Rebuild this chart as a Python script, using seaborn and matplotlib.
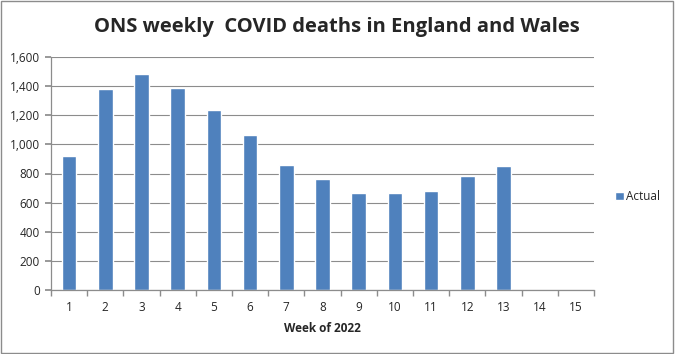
import matplotlib
matplotlib.use("Agg")
import matplotlib.pyplot as plt
import seaborn as sns
import numpy as np
import pandas as pd
from matplotlib.patches import Rectangle
from matplotlib.ticker import FuncFormatter, FixedLocator

weeks = [str(i) for i in range(1, 16)]
actual = [920, 1380, 1483, 1387, 1236, 1064, 860, 762, 668, 668, 680, 785, 853, np.nan, np.nan]
yticks = [0, 200, 400, 600, 800, 1000, 1200, 1400, 1600]

sns.set_theme(style="white")
plt.rcParams['font.family'] = ['Open Sans', 'DejaVu Sans']

df = pd.DataFrame({"week": weeks, "Actual": actual})

fig = plt.figure(figsize=(6.75, 3.54), dpi=100)
ax = fig.add_axes([51/675, 1-290/354, (594-51)/675, (290-57)/354])

sns.barplot(data=df, x="week", y="Actual", order=weeks, color="#4F81BD",
            width=0.4, saturation=1, ax=ax, label="Actual")

ax.set_ylim(0, 1600)
ax.set_xlim(-0.5, 14.5)
ax.set_yticks(yticks)
ax.yaxis.set_major_formatter(FuncFormatter(lambda v, p: f"{int(v):,}"))
ax.grid(axis="y", color="#8c8c8c", linewidth=0.8)
ax.set_axisbelow(True)

for s in ["top", "right"]:
    ax.spines[s].set_visible(False)
for s in ["left", "bottom"]:
    ax.spines[s].set_color("#8c8c8c")
    ax.spines[s].set_linewidth(0.9)

ax.tick_params(axis="y", which="major", length=4, color="#8c8c8c", direction="out",
               labelsize=8.5, pad=4, left=True)
ax.tick_params(axis="x", which="major", length=0, labelsize=8.5, pad=8)
ax.xaxis.set_minor_locator(FixedLocator(np.arange(-0.5, 15, 1)))
ax.tick_params(axis="x", which="minor", length=4, color="#8c8c8c", direction="out", bottom=True)

ax.set_xlabel("Week of 2022", fontsize=8.5, fontweight="bold", labelpad=6)
ax.set_ylabel("")

fig.text(337/675, 1-27/354, "ONS weekly  COVID deaths in England and Wales",
         ha="center", va="center", fontsize=14.5, fontweight="bold")

leg = ax.legend(loc="center left", bbox_to_anchor=(1.02, 0.4), frameon=False,
                fontsize=8.5, handlelength=0.7, handleheight=0.7, handletextpad=0.2)

fig.patches.append(Rectangle((0.002, 0.003), 0.995, 0.993, transform=fig.transFigure,
                             fill=False, edgecolor="#8c8c8c", linewidth=1))

fig.savefig("out.png", dpi=100)
